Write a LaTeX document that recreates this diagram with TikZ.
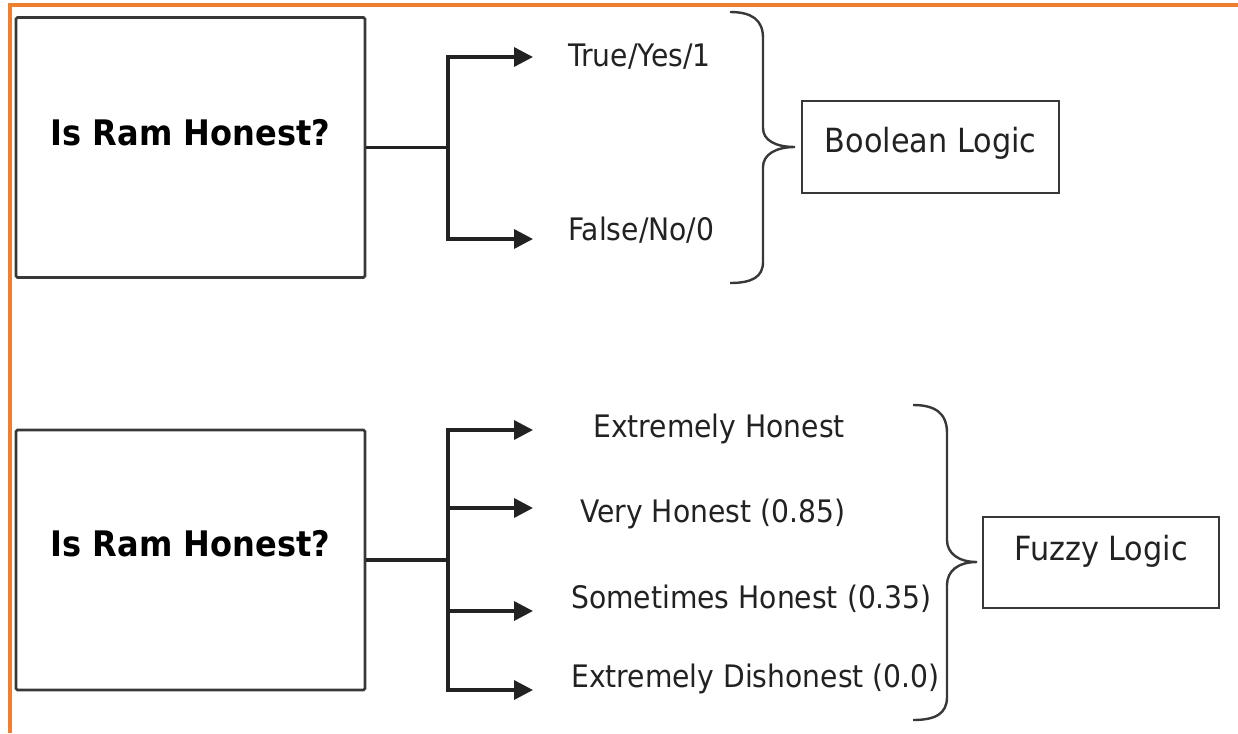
\documentclass[tikz,border=0pt]{standalone}
\usepackage{fontspec}
\setmainfont{DejaVu Sans}[FakeStretch=0.91]
\usetikzlibrary{arrows.meta}
\definecolor{frameorange}{HTML}{EF7F30}
\definecolor{ink}{HTML}{222222}
\definecolor{boxline}{HTML}{383838}

\begin{document}
\begin{tikzpicture}[x=1pt,y=-1pt,
  qbox/.style={draw=boxline, line width=2.8pt, rounded corners=1.5pt,
    minimum width=349pt, minimum height=260pt, inner sep=0pt,
    font=\fontsize{35.2}{40}\selectfont\bfseries, text=black},
  logicbox/.style={draw=boxline, line width=2.4pt, inner sep=0pt,
    font=\fontsize{33.3}{40}\selectfont, text=ink},
  choice/.style={anchor=base west, inner sep=0pt,
    font=\fontsize{31}{36}\selectfont, text=ink},
  wire/.style={draw=ink, line width=3.5pt},
  arr/.style={wire, -{Triangle[length=19pt,width=19pt]}},
  brace/.style={draw=boxline, line width=2.4pt},
]
\useasboundingbox (0,0) rectangle (1238,733);

% frame along the top and left edges
\draw[frameorange, line width=3.2pt] (1238,5) -- (10,5) -- (10,733);

% ---------- Boolean logic ----------
\node[qbox, text height=26pt, text depth=31pt] (q1) at (190.5,147.5) {Is Ram Honest?};

\coordinate (f1top) at (448,57);
\coordinate (f1bot) at (448,239);
\coordinate (tip1a) at (533,57);
\coordinate (tip1b) at (533,239);

\draw[wire] (q1.east) -- (q1.east -| f1top);
\draw[wire, line cap=rect] (f1top) -- (f1bot);
\draw[arr] (f1top) -- (tip1a);
\draw[arr] (f1bot) -- (tip1b);

\node[choice] (yes) at (568,67) {True/Yes/1};
\node[choice] (no) at (568,240) {False/No/0};

\node[logicbox, minimum width=257pt, minimum height=92pt,
      text height=26pt, text depth=14.6pt] (boolean) at (930.5,147) {Boolean Logic};

\coordinate (bt1) at (795,147);
\draw[brace] (730,12) .. controls (752,12) and (763,20) .. (763,38)
  -- (763,128) .. controls (763,140) and (775,147) .. (bt1)
  .. controls (775,147) and (763,155) .. (763,167)
  -- (763,262) .. controls (763,277) and (752,283) .. (730,283);

% ---------- Fuzzy logic ----------
\node[qbox, text height=26pt, text depth=34pt] (q2) at (190.5,560) {Is Ram Honest?};

\coordinate (f2top) at (448,430);
\coordinate (f2b) at (448,508);
\coordinate (f2c) at (448,611);
\coordinate (f2bot) at (448,690);
\coordinate (tip2a) at (533,430);
\coordinate (tip2b) at (533,508);
\coordinate (tip2c) at (533,611);
\coordinate (tip2d) at (533,690);

\draw[wire] (q2.east) -- (q2.east -| f2top);
\draw[wire, line cap=rect] (f2top) -- (f2bot);
\draw[arr] (f2top) -- (tip2a);
\draw[arr] (f2b) -- (tip2b);
\draw[arr] (f2c) -- (tip2c);
\draw[arr] (f2bot) -- (tip2d);

\node[choice] (exh) at (593,437) {Extremely Honest};
\node[choice] (vh) at (580,522) {Very Honest (0.85)};
\node[choice] (sh) at (571,608) {Sometimes Honest (0.35)};
\node[choice] (exd) at (571,687) {Extremely Dishonest (0.0)};

\node[logicbox, minimum width=236pt, minimum height=91pt,
      text height=25pt, text depth=30pt] (fuzzy) at (1101,562.5) {Fuzzy Logic};

\coordinate (bt2) at (977,562);
\draw[brace] (913,405) .. controls (935,405) and (947,413) .. (947,433)
  -- (947,540) .. controls (947,553) and (958,562) .. (bt2)
  .. controls (958,562) and (947,571) .. (947,585)
  -- (947,697) .. controls (947,714) and (935,720) .. (913,720);
\end{tikzpicture}
\end{document}
